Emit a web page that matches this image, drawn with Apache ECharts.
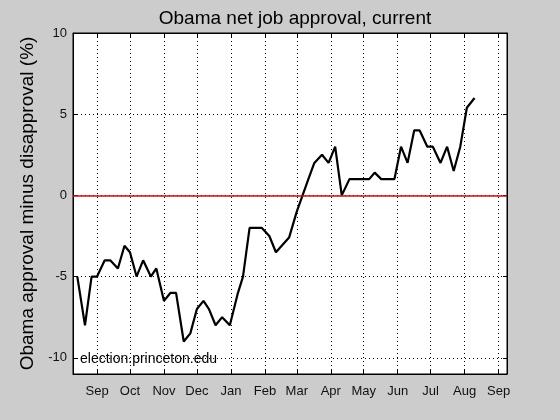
<!DOCTYPE html>
<html>
<head>
<meta charset="utf-8">
<script src="https://cdn.jsdelivr.net/npm/echarts@6/dist/echarts.min.js"></script>
<style>
html,body{margin:0;padding:0;background:#cccccc;}
#chart{width:560px;height:420px;}
</style>
</head>
<body>
<div id="chart"></div>
<script>
const dates = ['2011-08-14','2011-08-21','2011-08-27','2011-09-01','2011-09-08','2011-09-13','2011-09-20','2011-09-26','2011-10-01','2011-10-07','2011-10-13','2011-10-20','2011-10-25','2011-11-01','2011-11-07','2011-11-12','2011-11-19','2011-11-25','2011-12-01','2011-12-07','2011-12-12','2011-12-18','2011-12-24','2011-12-31','2012-01-07','2012-01-12','2012-01-18','2012-01-29','2012-02-05','2012-02-11','2012-02-23','2012-03-01','2012-03-11','2012-03-17','2012-03-24','2012-03-30','2012-04-05','2012-04-11','2012-04-18','2012-05-06','2012-05-11','2012-05-17','2012-05-29','2012-06-04','2012-06-10','2012-06-16','2012-06-21','2012-06-28','2012-07-03','2012-07-10','2012-07-16','2012-07-22','2012-07-28','2012-08-03','2012-08-10'];
const netApproval = [-5,-8,-5,-5,-4,-4,-4.5,-3.1,-3.5,-5,-4,-5,-4.5,-6.5,-6,-6,-9,-8.5,-7,-6.5,-7,-8,-7.5,-8,-6.1,-5,-2,-2,-2.5,-3.5,-2.6,-1,0.9,2,2.5,2,3,0,1,1,1.4,1,1,3,2,4,4,3,3,2,3,1.5,3,5.4,6];
const monthLabels = ['Jan','Feb','Mar','Apr','May','Jun','Jul','Aug','Sep','Oct','Nov','Dec'];
const xRange = ['2011-08-10 02:00','2012-09-08 14:00'];
const yRange = [-11, 10];
const zeroLine = [0];
const titleText = 'Obama net job approval, current';
const yAxisTitle = 'Obama approval minus disapproval (%)';
const creditText = 'election.princeton.edu';

const FONT = 'Liberation Sans';
const DAY = 86400000;
const chart = echarts.init(document.getElementById('chart'));
const seriesData = dates.map((d, i) => [d, netApproval[i]]);
const xMin = new Date(xRange[0].replace(' ', 'T')).getTime();
const xMax = new Date(xRange[1].replace(' ', 'T')).getTime();

function xAxisOpt(pos, withLabels) {
  return {
    type: 'time', min: xMin, max: xMax, position: pos,
    minInterval: 28 * DAY, maxInterval: 31 * DAY,
    axisLine: {show: true, onZero: false, lineStyle: {color: '#000', width: 1}},
    axisTick: {show: true, inside: true, length: 4, lineStyle: {color: '#000'}},
    axisLabel: withLabels ? {
      show: true, interval: 0, hideOverlap: false, showMinLabel: false, showMaxLabel: false,
      margin: 11, color: '#111', fontFamily: FONT, fontSize: 13,
      formatter: v => monthLabels[new Date(v).getMonth()]
    } : {show: false},
    splitLine: withLabels ? {show: true, lineStyle: {color: '#000', width: 1, type: [1, 3]}} : {show: false}
  };
}
function yAxisOpt(pos, withLabels) {
  const o = {
    type: 'value', min: yRange[0], max: yRange[1], splitNumber: 5, position: pos,
    axisLine: {show: true, onZero: false, lineStyle: {color: '#000', width: 1}},
    axisTick: {show: true, inside: true, length: 4, lineStyle: {color: '#000'}},
    axisLabel: withLabels ? {show: true, showMinLabel: false, margin: 6, color: '#111', fontFamily: FONT, fontSize: 13} : {show: false},
    splitLine: withLabels ? {show: true, lineStyle: {color: '#000', width: 1, type: [1, 3]}} : {show: false}
  };
  if (withLabels) {
    o.name = yAxisTitle; o.nameLocation = 'middle'; o.nameRotate = 90; o.nameGap = 30;
    o.nameTextStyle = {fontFamily: FONT, fontSize: 19, color: '#000'};
  }
  return o;
}

chart.setOption({
  backgroundColor: '#cccccc',
  animation: false,
  title: {
    text: titleText, left: 290, top: 4, textAlign: 'center',
    textStyle: {fontFamily: FONT, fontSize: 19, fontWeight: 'normal', color: '#000'}
  },
  grid: {left: 73, top: 33, width: 434, height: 341, show: true, backgroundColor: '#fff', borderColor: '#000', borderWidth: 1, containLabel: false},
  xAxis: [xAxisOpt('bottom', true), xAxisOpt('top', false)],
  yAxis: [yAxisOpt('left', true), yAxisOpt('right', false)],
  graphic: [{
    type: 'text', left: 80, top: 352, z: 100,
    style: {text: creditText, fill: '#000', font: '14px "Liberation Sans"'}
  }],
  series: [{
    type: 'line', xAxisIndex: 0, yAxisIndex: 0,
    data: seriesData, showSymbol: false, symbol: 'none',
    lineStyle: {color: '#000', width: 2.2},
    z: 3,
    markLine: {
      silent: true, symbol: ['none', 'none'], label: {show: false},
      lineStyle: {color: '#c81010', width: 1.6, type: 'solid', opacity: 1},
      emphasis: {disabled: true},
      data: zeroLine.map(v => ({yAxis: v}))
    }
  }]
});
</script>
</body>
</html>
